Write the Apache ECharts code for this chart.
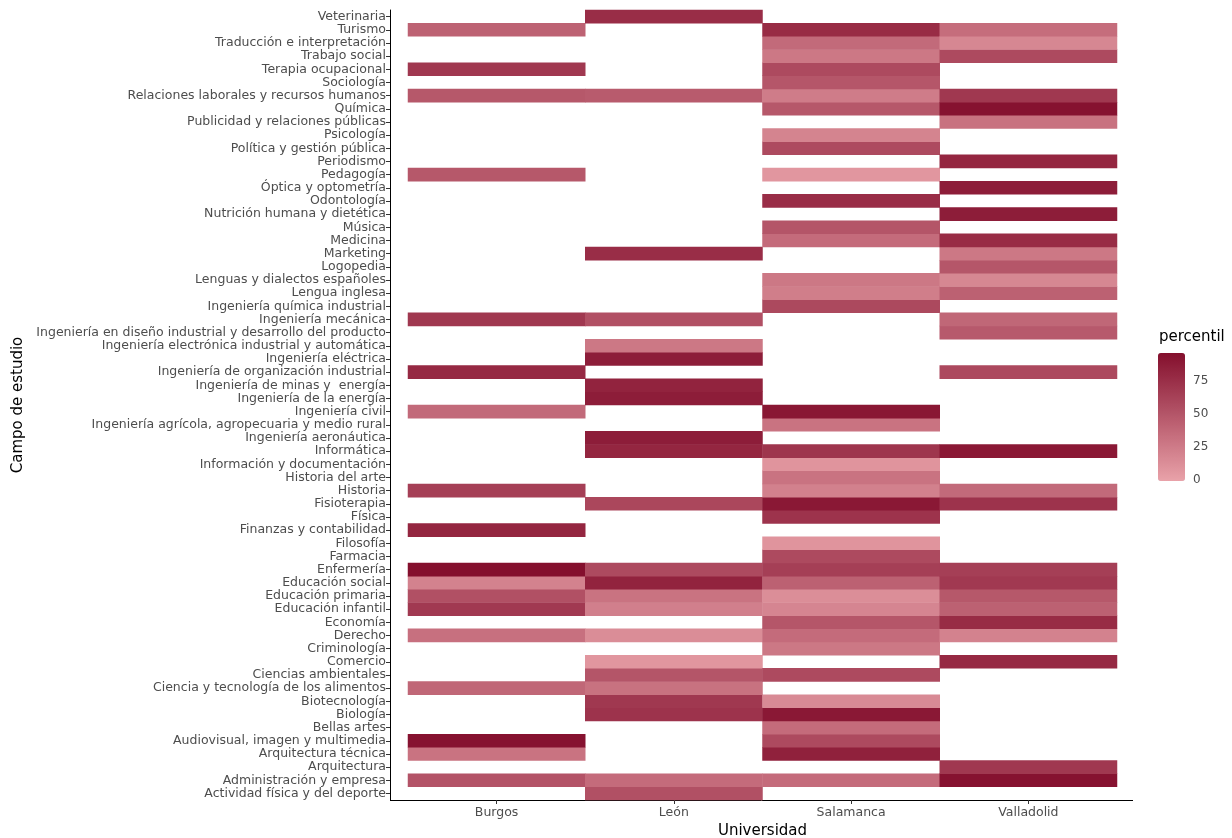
<!DOCTYPE html>
<html>
<head>
<meta charset="utf-8">
<script src="https://cdn.jsdelivr.net/npm/echarts@6/dist/echarts.min.js"></script>
<style>
  html, body { margin: 0; padding: 0; background: #fff; }
  #chart { width: 1232px; height: 838px; }
</style>
</head>
<body>
<div id="chart"></div>
<script>
// universidades (eje x)
const universidades = ['Burgos', 'León', 'Salamanca', 'Valladolid'];

// campos de estudio, de abajo hacia arriba
const campos = [
  'Actividad física y del deporte', 'Administración y empresa', 'Arquitectura', 'Arquitectura técnica',
  'Audiovisual, imagen y multimedia', 'Bellas artes', 'Biología', 'Biotecnología',
  'Ciencia y tecnología de los alimentos', 'Ciencias ambientales', 'Comercio', 'Criminología',
  'Derecho', 'Economía', 'Educación infantil', 'Educación primaria', 'Educación social',
  'Enfermería', 'Farmacia', 'Filosofía', 'Finanzas y contabilidad', 'Física', 'Fisioterapia',
  'Historia', 'Historia del arte', 'Información y documentación', 'Informática',
  'Ingeniería aeronáutica', 'Ingeniería agrícola, agropecuaria y medio rural', 'Ingeniería civil',
  'Ingeniería de la energía', 'Ingeniería de minas y  energía', 'Ingeniería de organización industrial',
  'Ingeniería eléctrica', 'Ingeniería electrónica industrial y automática',
  'Ingeniería en diseño industrial y desarrollo del producto', 'Ingeniería mecánica',
  'Ingeniería química industrial', 'Lengua inglesa', 'Lenguas y dialectos españoles', 'Logopedia',
  'Marketing', 'Medicina', 'Música', 'Nutrición humana y dietética', 'Odontología',
  'Óptica y optometría', 'Pedagogía', 'Periodismo', 'Política y gestión pública', 'Psicología',
  'Publicidad y relaciones públicas', 'Química', 'Relaciones laborales y recursos humanos',
  'Sociología', 'Terapia ocupacional', 'Trabajo social', 'Traducción e interpretación',
  'Turismo', 'Veterinaria'
];

// percentil por campo (mismo orden que campos), null = sin dato
const burgos = [
  null, 52, null, 31, 95, null, null, null, 39, null,
  null, null, 33, null, 69, 54, 21, 97, null, null,
  82, null, null, 65, null, null, null, null, null, 37,
  null, null, 80, null, null, null, 70, null, null, null,
  null, null, null, null, null, null, null, 49, null, null,
  null, null, null, 49, null, 70, null, null, 42, null
];
const leon = [
  54, 36, null, null, null, null, 73, 70, 32, 51,
  8, null, 14, null, 23, 31, 84, 58, null, null,
  null, null, 60, null, null, null, 82, 88, null, null,
  88, 84, null, 88, 28, null, 54, null, null, null,
  null, 77, null, null, null, null, null, null, null, null,
  null, null, null, 47, null, null, null, null, null, 77
];
const salamanca = [
  null, 36, null, 85, 58, 36, 91, 16, null, 58,
  null, 28, 36, 50, 19, 13, 43, 65, 58, 9,
  null, 73, 91, 22, 31, 9, 72, null, 31, 92,
  null, null, null, null, null, null, null, 59, 24, 28,
  null, null, 36, 51, null, 77, null, 8, null, 58,
  20, null, 49, 25, 50, 58, 28, 37, 78, null
];
const valladolid = [
  null, 95, 70, null, null, null, null, null, null, null,
  80, null, 21, 78, 43, 49, 69, 65, null, null,
  null, null, 73, 37, null, null, 91, null, null, null,
  null, null, 59, null, null, 48, 39, null, 43, 18,
  50, 28, 78, null, 88, null, 88, null, 82, null,
  null, 32, 95, 70, null, null, 58, 18, 35, null
];

const legendTicks = [0, 25, 50, 75];
const vMin = 0, vMax = 97;

const FONT = 'DejaVu Sans';

const cols = [burgos, leon, salamanca, valladolid];
let data = [];
cols.forEach((col, xi) => {
  col.forEach((v, yi) => {
    if (v !== null) data.push([xi, yi, v]);
  });
});

const chart = echarts.init(document.getElementById('chart'));

// geometria de la leyenda
const barLeft = 1158, barTop = 353, barW = 27, barH = 128;
let extras = [{
  type: 'text', left: 1159, top: 330,
  style: { text: 'percentil', font: '15px ' + FONT, fill: '#000' }
}];
legendTicks.forEach(t => {
  let y = barTop + barH - (t - vMin) / (vMax - vMin) * barH;
  extras.push({
    type: 'text', left: 1193, top: y - 7,
    style: { text: String(t), font: '12px ' + FONT, fill: '#4d4d4d' }
  });
  extras.push({
    type: 'line', shape: { x1: barLeft, y1: y, x2: barLeft + 5, y2: y },
    style: { stroke: '#fff', lineWidth: 1 }
  });
  extras.push({
    type: 'line', shape: { x1: barLeft + barW - 5, y1: y, x2: barLeft + barW, y2: y },
    style: { stroke: '#fff', lineWidth: 1 }
  });
});
// linea del eje x a lo ancho del panel
extras.push({
  type: 'line', shape: { x1: 390, y1: 800.5, x2: 1133, y2: 800.5 },
  style: { stroke: '#000', lineWidth: 1 }
});

chart.setOption({
  animation: false,
  grid: { left: 408, right: 115, top: 10, bottom: 38, containLabel: false, outerBoundsMode: 'none' },
  xAxis: {
    type: 'category',
    data: universidades,
    name: 'Universidad',
    nameLocation: 'middle',
    nameGap: 22,
    nameTextStyle: { fontFamily: FONT, fontSize: 15, color: '#000' },
    axisLine: { show: false },
    axisTick: { show: true, alignWithLabel: true, length: 4, lineStyle: { color: '#333' } },
    axisLabel: { fontFamily: FONT, fontSize: 12.5, color: '#4d4d4d', margin: 6 },
    splitLine: { show: false }
  },
  yAxis: {
    type: 'category',
    data: campos,
    offset: 18,
    name: 'Campo de estudio',
    nameLocation: 'middle',
    nameGap: 358,
    nameRotate: 90,
    nameTextStyle: { fontFamily: FONT, fontSize: 15, color: '#000' },
    axisLine: { show: true, lineStyle: { color: '#000', width: 1 } },
    axisTick: { show: true, alignWithLabel: true, length: 4, lineStyle: { color: '#333' } },
    axisLabel: { fontFamily: FONT, fontSize: 12.5, color: '#4d4d4d', margin: 4, interval: 0 },
    splitLine: { show: false }
  },
  visualMap: {
    type: 'continuous',
    min: vMin,
    max: vMax,
    dimension: 2,
    calculable: false,
    left: barLeft,
    top: barTop,
    itemWidth: barW,
    itemHeight: barH,
    padding: 0,
    text: null,
    inRange: { color: ['#e9a2a9', '#840f2d'] }
  },
  graphic: extras,
  series: [{
    type: 'heatmap',
    data: data,
    itemStyle: { borderWidth: 0 },
    emphasis: { disabled: true }
  }]
});
</script>
</body>
</html>
